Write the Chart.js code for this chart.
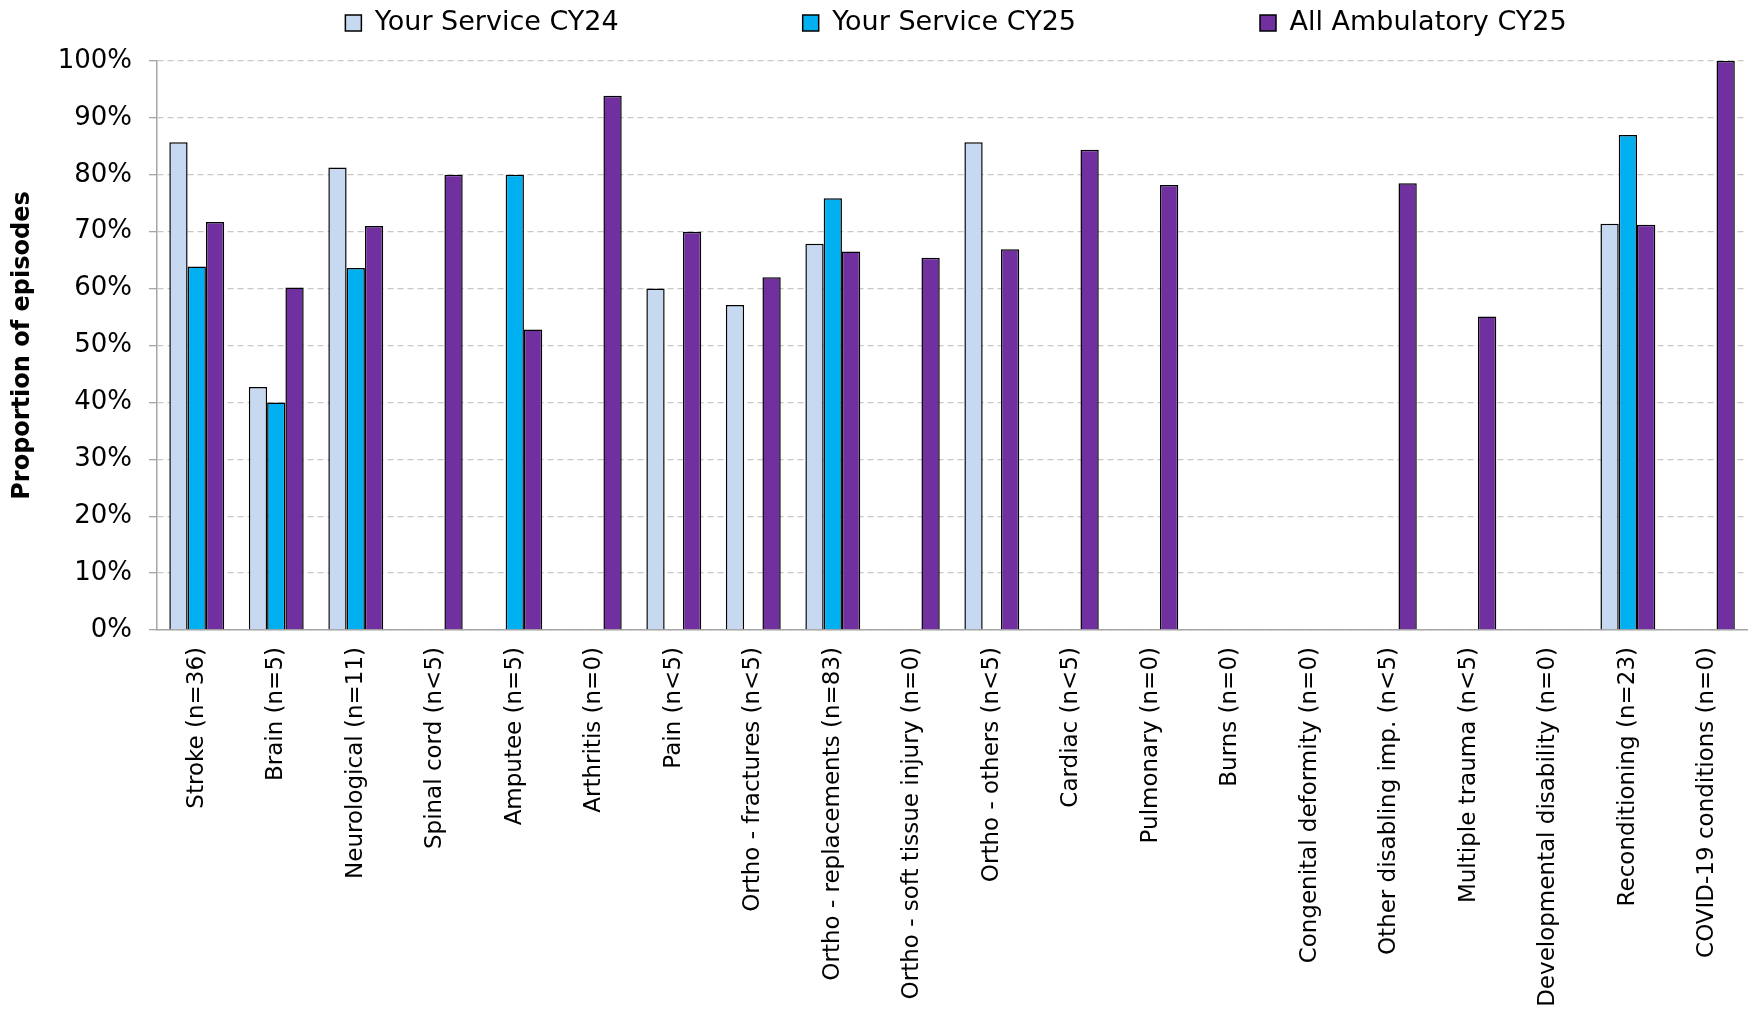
<!DOCTYPE html>
<html>
<head>
<meta charset="utf-8">
<script src="https://cdn.jsdelivr.net/npm/chart.js@4/dist/chart.umd.min.js"></script>
<style>
  html, body { margin: 0; padding: 0; background: #fff; }
  #wrap { width: 1752px; height: 1025px; position: relative; }
</style>
</head>
<body>
<div id="wrap"><canvas id="chart"></canvas></div>
<script>
// Categorias (eje X)
const categories = [
    "Stroke (n=36)", "Brain (n=5)", "Neurological (n=11)", "Spinal cord (n<5)",
    "Amputee (n=5)", "Arthritis (n=0)", "Pain (n<5)", "Ortho - fractures (n<5)",
    "Ortho - replacements (n=83)", "Ortho - soft tissue injury (n=0)", "Ortho - others (n<5)",
    "Cardiac (n<5)", "Pulmonary (n=0)", "Burns (n=0)", "Congenital deformity (n=0)",
    "Other disabling imp. (n<5)", "Multiple trauma (n<5)", "Developmental disability (n=0)",
    "Reconditioning (n=23)", "COVID-19 conditions (n=0)"
];

// Series (% de episodios)
const serviceCY24 = [85.7, 42.7, 81.3, null, null, null, 60.0, 57.1, 67.9, null, 85.7, null, null, null, null, null, null, null, 71.4, null];
const serviceCY25 = [63.9, 40.0, 63.6, null, 80.0, null, null, null, 75.9, null, null, null, null, null, null, null, null, null, 87.0, null];
const ambulatoryCY25 = [71.7, 60.2, 71.0, 80.0, 52.8, 93.9, 70.0, 62.0, 66.5, 65.4, 66.9, 84.4, 78.2, null, null, 78.5, 55.1, null, 71.2, 100.0];

const seriesNames = ["Your Service CY24", "Your Service CY25", "All Ambulatory CY25"];
const yTicks = [0, 10, 20, 30, 40, 50, 60, 70, 80, 90, 100];

const FONT = "'DejaVu Sans', sans-serif";
const LEGEND_PAD = 184;
const LEGEND_SIZE = 27;

// Leyenda con columnas anchas, como en Excel
const legendPlacer = {
    id: "legendPlacer",
    afterInit(chart) {
        const fit = chart.legend.fit;
        chart.legend.fit = function () {
            fit.call(this);
            this.height = 61;
        };
    },
    beforeDraw(chart) {
        const lg = chart.legend;
        lg.left = 160;
        lg.right = 1752;
        lg.top = 23 - LEGEND_PAD - LEGEND_SIZE / 2;
    }
};

function makeDataset(label, data, color) {
    return {
        label: label,
        data: data,
        backgroundColor: color,
        borderColor: "#000",
        borderWidth: 1.5,
        borderSkipped: "bottom"
    };
}

const ctx = document.getElementById("chart").getContext("2d");
const chart = new Chart(ctx, {
    type: "bar",
    data: {
        labels: categories,
        datasets: [
            makeDataset(seriesNames[0], serviceCY24, "#C6D9F1"),
            makeDataset(seriesNames[1], serviceCY25, "#00B0F0"),
            makeDataset(seriesNames[2], ambulatoryCY25, "#7030A0")
        ]
    },
    plugins: [legendPlacer],
    options: {
        responsive: true,
        maintainAspectRatio: false,
        animation: false,
        layout: { padding: { left: 0, right: 1, top: 0, bottom: 0 } },
        datasets: {
            bar: { categoryPercentage: 0.69, barPercentage: 1.0 }
        },
        plugins: {
            legend: {
                position: "top",
                labels: {
                    font: { family: FONT, size: LEGEND_SIZE },
                    color: "#000",
                    boxWidth: 16,
                    boxHeight: 16,
                    padding: LEGEND_PAD
                }
            },
            tooltip: { enabled: false }
        },
        scales: {
            x: {
                grid: { display: false, drawTicks: false },
                border: { display: true, color: "#A6A6A6", width: 1.5 },
                ticks: {
                    autoSkip: false,
                    maxRotation: 90,
                    minRotation: 90,
                    padding: 17,
                    color: "#000",
                    font: { family: FONT, size: 23 }
                },
                afterFit(scale) { scale.height = 395; }
            },
            y: {
                min: 0,
                max: 100,
                afterBuildTicks(scale) { scale.ticks = yTicks.map(v => ({ value: v })); },
                grid: {
                    color: "#C8C8C8",
                    lineWidth: 1.3,
                    tickLength: 8,
                    tickColor: "#A6A6A6",
                    tickBorderDash: [],
                    tickWidth: 1.3
                },
                border: { display: true, color: "#A6A6A6", width: 1.5, dash: [6, 4] },
                ticks: {
                    padding: 17,
                    color: "#000",
                    font: { family: FONT, size: 26 },
                    callback: v => v + "%"
                },
                title: {
                    display: true,
                    text: "Proportion of episodes",
                    color: "#000",
                    font: { family: FONT, size: 24, weight: "bold" },
                    padding: { top: 8, bottom: 0 }
                },
                afterFit(scale) { scale.width = 157; }
            }
        }
    }
});
</script>
</body>
</html>
